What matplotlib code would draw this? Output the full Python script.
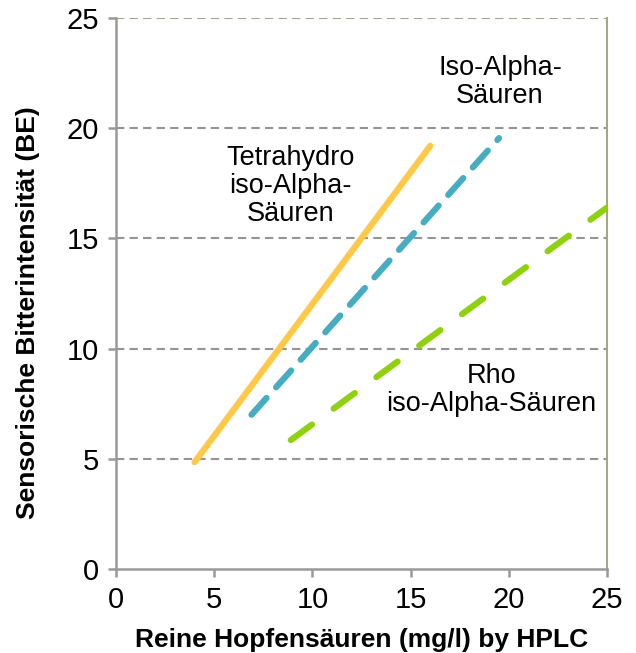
import matplotlib

matplotlib.use("Agg", force=True)
import matplotlib.pyplot as plt

plt.rcParams["font.family"] = ["Liberation Sans", "DejaVu Sans"]

# Sensory bitterness vs. pure hop acids
tetra_x = [4.0, 16.0]
tetra_y = [4.85, 19.2]
iso_x = [6.9, 19.5]
iso_y = [7.0, 19.55]
rho_x = [8.9, 25.0]
rho_y = [5.85, 16.4]

x_ticks = [0, 5, 10, 15, 20, 25]
y_ticks = [0, 5, 10, 15, 20, 25]

fig = plt.figure(figsize=(6.36, 6.53), dpi=100)
ax = fig.add_axes([0.1824, 0.1286, 0.7720, 0.8438])

grid_color = "#949494"
for yv in y_ticks[1:-1]:
    ax.axhline(yv, color=grid_color, lw=1.5, ls=(0, (4, 2.5)), zorder=1)
ax.axhline(25, color="#a5a58a", lw=1.5, ls=(0, (4, 2.5)), zorder=1)

ax.plot(tetra_x, tetra_y, color="#FFC847", lw=4.5, solid_capstyle="round", zorder=3)
ax.plot(iso_x, iso_y, color="#45ACC2", lw=4.5, ls=(0, (3.6, 2.3)),
        dash_capstyle="round", zorder=3)
ax.plot(rho_x, rho_y, color="#8FD10F", lw=4.5, ls=(0, (4.2, 4.3)),
        dash_capstyle="round", zorder=3)

ax.set_xlim(0, 25)
ax.set_ylim(0, 25)
ax.set_xticks(x_ticks)
ax.set_yticks(y_ticks)

for side in ("left", "bottom"):
    ax.spines[side].set_color("#999999")
    ax.spines[side].set_linewidth(1.8)
ax.spines["top"].set_visible(False)
ax.spines["right"].set_color("#a5a58a")
ax.spines["right"].set_linewidth(1.5)

ax.tick_params(axis="both", direction="out", length=6, width=1.8, color="#999999",
               labelsize=21, pad=6)

ax.set_xlabel("Reine Hopfensäuren (mg/l) by HPLC", fontsize=19, fontweight="bold",
              labelpad=10)
ax.set_ylabel("Sensorische Bitterintensität (BE)", fontsize=19, fontweight="bold")
ax.yaxis.set_label_coords(-0.155, 0.466)

ax.text(8.9, 17.4, "Tetrahydro\niso-Alpha-\nSäuren", fontsize=19.5, ha="center",
        va="center", linespacing=1.1)
ax.text(19.55, 22.1, "Iso-Alpha-\nSäuren", fontsize=19.5, ha="center", va="center",
        linespacing=1.1)
ax.text(19.1, 8.1, "Rho\niso-Alpha-Säuren", fontsize=19.5, ha="center", va="center",
        linespacing=1.1)

fig.savefig("out.png", dpi=100)
